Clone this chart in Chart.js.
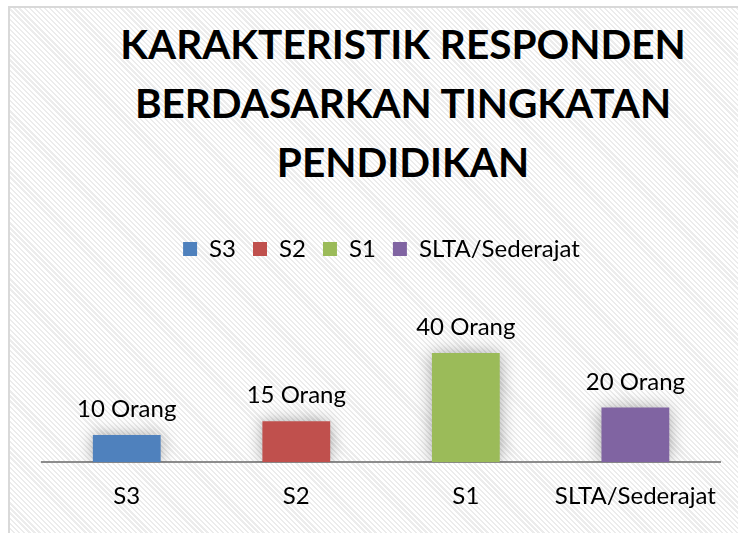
<!DOCTYPE html>
<html>
<head>
<meta charset="utf-8">
<script src="https://cdn.jsdelivr.net/npm/chart.js@4.4.1/dist/chart.umd.min.js"></script>
<style>
  html, body { margin: 0; padding: 0; width: 738px; height: 533px; overflow: hidden; background: #fff; }
  /* kotak chart ala Excel, garis diagonal tipis */
  #bingkai {
    position: absolute; left: 8px; top: 6px; width: 760px; height: 560px;
    border: 2px solid #d9d9d9;
    background: repeating-linear-gradient(45deg, #ffffff 0px, #ffffff 2px, #ececec 2px, #ececec 3.6px);
  }
  #judul {
    position: absolute; left: 103px; top: 14px; width: 600px;
    text-align: center; font-family: Lato, sans-serif; font-weight: 700;
    font-size: 40.5px; line-height: 59px; color: #000;
  }
  #grafik { position: absolute; left: 0; top: 0; }
</style>
</head>
<body>
<div id="bingkai"></div>
<div id="judul"></div>
<canvas id="grafik" width="738" height="533"></canvas>
<script>
/* data dari gambar */
const judul = ['KARAKTERISTIK RESPONDEN', 'BERDASARKAN TINGKATAN', 'PENDIDIKAN'];
const kategori = ['S3', 'S2', 'S1', 'SLTA/Sederajat'];
const jumlah = [10, 15, 40, 20];
const satuan = 'Orang';
const warna = ['#4F81BD', '#C0504D', '#9BBB59', '#8064A2'];

document.getElementById('judul').innerHTML = judul.join('<br>');

Chart.defaults.font.family = 'Lato, sans-serif';
Chart.defaults.color = '#000';

/* bayangan lembut di belakang batang */
const bayangan = {
    id: 'bayangan',
    beforeDatasetDraw(chart) {
        const c = chart.ctx;
        c.save();
        c.shadowColor = 'rgba(0,0,0,0.35)';
        c.shadowBlur = 16;
    },
    afterDatasetDraw(chart) {
        chart.ctx.restore();
    }
};

/* label "xx Orang" di atas batang */
const labelNilai = {
    id: 'labelNilai',
    afterDatasetsDraw(chart) {
        const c = chart.ctx;
        const meta = chart.getDatasetMeta(0);
        c.save();
        c.font = '24px Lato, sans-serif';
        c.fillStyle = '#000';
        c.textAlign = 'center';
        c.textBaseline = 'alphabetic';
        meta.data.forEach((bar, i) => {
            c.fillText(chart.data.datasets[0].data[i] + ' ' + satuan, bar.x, bar.y - 18);
        });
        c.restore();
    }
};

new Chart(document.getElementById('grafik'), {
    type: 'bar',
    data: {
        labels: kategori,
        datasets: [{
            data: jumlah,
            backgroundColor: warna,
            borderWidth: 0,
            barPercentage: 0.4,
            categoryPercentage: 1
        }]
    },
    options: {
        responsive: false,
        animation: false,
        layout: {
            padding: { left: 42, right: 17, top: 220, bottom: 2 }
        },
        scales: {
            x: {
                grid: { display: false, drawTicks: false },
                border: { display: true, color: '#8c8c8c', width: 2 },
                ticks: { font: { size: 24 }, color: '#000', padding: 20 }
            },
            y: {
                display: false,
                min: 0,
                max: 70
            }
        },
        plugins: {
            legend: {
                display: true,
                position: 'top',
                labels: {
                    boxWidth: 14,
                    boxHeight: 14,
                    padding: 17,
                    font: { size: 24 },
                    color: '#000',
                    generateLabels: chart => chart.data.labels.map((l, i) => ({
                        text: l,
                        fillStyle: warna[i],
                        strokeStyle: warna[i],
                        lineWidth: 0,
                        hidden: false,
                        index: i
                    }))
                }
            },
            tooltip: { enabled: false }
        }
    },
    plugins: [bayangan, labelNilai]
});
</script>
</body>
</html>
